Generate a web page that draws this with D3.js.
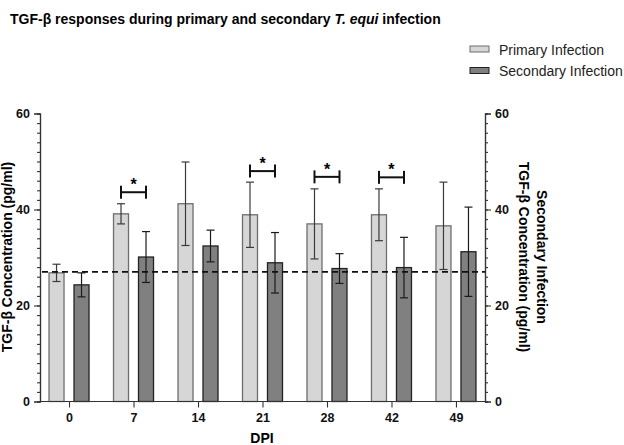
<!DOCTYPE html>
<html>
<head>
<meta charset="utf-8">
<script src="https://cdnjs.cloudflare.com/ajax/libs/d3/7.8.5/d3.min.js"></script>
<style>
  body { margin: 0; background: #fff; }
  text { font-family: "Liberation Sans", Arial, Helvetica, sans-serif; }
</style>
</head>
<body>
<svg id="chart"></svg>
<script>
// data
var days = ["0", "7", "14", "21", "28", "42", "49"];
var primary = [26.8, 39.1, 41.2, 38.9, 37.0, 38.9, 36.6];
var primaryErr = [1.8, 2.1, 8.7, 6.8, 7.3, 5.4, 9.1];
var secondary = [24.3, 30.1, 32.4, 28.9, 27.7, 27.9, 31.2];
var secondaryErr = [2.5, 5.3, 3.3, 6.3, 3.1, 6.3, 9.3];
var sigDays = ["7", "21", "28", "42"];
var sigHeights = [43.6, 48.0, 46.8, 46.7];
var baseline = 27.0;
var yTicks = [0, 20, 40, 60];

var width = 624, height = 445;
var plotLeft = 40, plotRight = 485, plotTop = 113.5, plotBottom = 401.5;

var svg = d3.select("#chart")
    .attr("width", width)
    .attr("height", height);

var x = d3.scalePoint()
    .domain(days)
    .range([plotLeft, plotRight])
    .padding(0.45);

var y = d3.scaleLinear()
    .domain([0, 60])
    .range([plotBottom, plotTop]);

var barW = 15, offset = 12.5;

// bars
svg.selectAll(".bar1")
    .data(primary)
    .enter()
    .append("rect")
    .attr("x", function(d, i) { return x(days[i]) - offset - barW / 2; })
    .attr("y", function(d) { return y(d); })
    .attr("width", barW)
    .attr("height", function(d) { return y(0) - y(d); })
    .style("fill", "#d6d6d6")
    .style("stroke", "#6e6e6e")
    .style("stroke-width", 1.3);

svg.selectAll(".bar2")
    .data(secondary)
    .enter()
    .append("rect")
    .attr("x", function(d, i) { return x(days[i]) + offset - barW / 2; })
    .attr("y", function(d) { return y(d); })
    .attr("width", barW)
    .attr("height", function(d) { return y(0) - y(d); })
    .style("fill", "#808080")
    .style("stroke", "#222")
    .style("stroke-width", 1.3);

// error bars
function errorBars(vals, errs, dx, color) {
    var g = svg.append("g").style("stroke", color).style("stroke-width", 1.2).style("fill", "none");
    vals.forEach(function(v, i) {
        var cx = x(days[i]) + dx;
        g.append("line").attr("x1", cx).attr("x2", cx).attr("y1", y(v + errs[i])).attr("y2", y(v - errs[i]));
        g.append("line").attr("x1", cx - 4).attr("x2", cx + 4).attr("y1", y(v + errs[i])).attr("y2", y(v + errs[i]));
        g.append("line").attr("x1", cx - 4).attr("x2", cx + 4).attr("y1", y(v - errs[i])).attr("y2", y(v - errs[i]));
    });
}
errorBars(primary, primaryErr, -offset, "#3a3a3a");
errorBars(secondary, secondaryErr, offset, "#1a1a1a");

// dashed reference line
svg.append("line")
    .attr("x1", plotLeft + 2)
    .attr("x2", plotRight)
    .attr("y1", y(baseline))
    .attr("y2", y(baseline))
    .style("stroke", "#111")
    .style("stroke-width", 1.8)
    .style("stroke-dasharray", "6,4");

// significance brackets
sigDays.forEach(function(d, i) {
    var x1 = x(d) - offset, x2 = x(d) + offset, yy = y(sigHeights[i]);
    var g = svg.append("g").style("stroke", "#111").style("stroke-width", 2).style("fill", "none");
    g.append("line").attr("x1", x1).attr("x2", x2).attr("y1", yy).attr("y2", yy);
    g.append("line").attr("x1", x1).attr("x2", x1).attr("y1", yy - 6.5).attr("y2", yy + 6.5);
    g.append("line").attr("x1", x2).attr("x2", x2).attr("y1", yy - 6.5).attr("y2", yy + 6.5);
    svg.append("text")
        .attr("x", x(d))
        .attr("y", yy - 2)
        .attr("text-anchor", "middle")
        .style("font-size", "16px")
        .style("font-weight", "bold")
        .text("*");
});

// axes
var leftAxis = d3.axisLeft(y).tickValues(yTicks).tickSize(6).tickPadding(4);
var leftMinor = d3.axisLeft(y).tickValues(d3.range(0, 61, 2)).tickSize(3).tickFormat("");
var rightAxis = d3.axisRight(y).tickValues(yTicks).tickSize(6).tickPadding(4);
var rightMinor = d3.axisRight(y).tickValues(d3.range(0, 61, 2)).tickSize(3).tickFormat("");
var xAxis = d3.axisBottom(x).tickSize(6).tickPadding(6).tickSizeOuter(0);

function styleAxis(g) {
    g.select(".domain").style("stroke", "#333").style("stroke-width", 1.2);
    g.selectAll(".tick line").style("stroke", "#333").style("stroke-width", 1.1);
    g.selectAll("text")
        .style("font-size", "12.5px")
        .style("font-weight", "bold")
        .style("font-family", "'Liberation Sans', Arial, sans-serif")
        .style("fill", "#111");
}

svg.append("g").attr("transform", "translate(" + plotLeft + ",0)").call(leftMinor).call(styleAxis);
svg.append("g").attr("transform", "translate(" + plotLeft + ",0)").call(leftAxis).call(styleAxis);
svg.append("g").attr("transform", "translate(" + plotRight + ",0)").call(rightMinor).call(styleAxis);
svg.append("g").attr("transform", "translate(" + plotRight + ",0)").call(rightAxis).call(styleAxis);

var xg = svg.append("g").attr("transform", "translate(0," + plotBottom + ")").call(xAxis).call(styleAxis);
xg.select(".domain").attr("d", "M" + plotLeft + ",0H" + plotRight);

// title
var title = svg.append("text")
    .attr("x", 10)
    .attr("y", 24)
    .style("font-size", "14px")
    .style("font-weight", "bold");
title.append("tspan").text("TGF-β responses during primary and secondary ");
title.append("tspan").style("font-style", "italic").text("T. equi");
title.append("tspan").text(" infection");

// axis titles
svg.append("text")
    .attr("x", 262)
    .attr("y", 443)
    .attr("text-anchor", "middle")
    .style("font-size", "14px")
    .style("font-weight", "bold")
    .text("DPI");

svg.append("text")
    .attr("transform", "translate(12,257) rotate(-90)")
    .attr("text-anchor", "middle")
    .style("font-size", "14px")
    .style("font-weight", "bold")
    .text("TGF-β Concentration (pg/ml)");

var rt = svg.append("text")
    .attr("transform", "translate(537,257) rotate(90)")
    .attr("text-anchor", "middle")
    .style("font-size", "14px")
    .style("font-weight", "bold");
rt.append("tspan").attr("x", 0).attr("y", 0).text("Secondary Infection");
rt.append("tspan").attr("x", 0).attr("y", 18.5).text("TGF-β Concentration (pg/ml)");

// legend
var legendNames = ["Primary Infection", "Secondary Infection"];
var legendFill = ["#d6d6d6", "#808080"];
var legendStroke = ["#6e6e6e", "#222"];
var lg = svg.selectAll(".legend")
    .data(legendNames)
    .enter()
    .append("g")
    .attr("transform", function(d, i) { return "translate(470," + (46 + i * 21.5) + ")"; });
lg.append("rect")
    .attr("width", 19)
    .attr("height", 6)
    .style("fill", function(d, i) { return legendFill[i]; })
    .style("stroke", function(d, i) { return legendStroke[i]; })
    .style("stroke-width", 1);
lg.append("text")
    .attr("x", 29)
    .attr("y", 8.5)
    .style("font-size", "14px")
    .style("fill", "#222")
    .text(function(d) { return d; });
</script>
</body>
</html>
